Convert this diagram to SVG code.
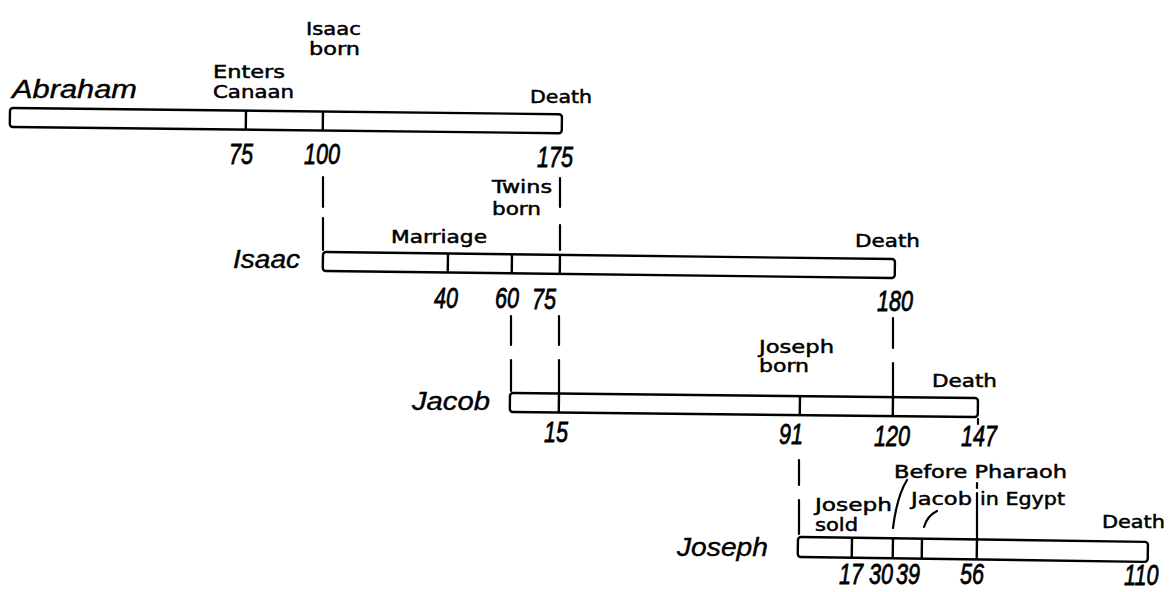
<svg xmlns="http://www.w3.org/2000/svg" width="1170" height="592" viewBox="0 0 1170 592">
<style>
.bar{fill:#fff;stroke:#000;stroke-width:2.4;stroke-linejoin:round}
.tick{stroke:#000;stroke-width:2.4}
.conn line,.conn path{stroke:#000;stroke-width:2.2;fill:none;stroke-linecap:round}
.lbl{font-family:"DejaVu Sans","Liberation Sans",sans-serif;font-size:18px;fill:#000;stroke:#000;stroke-width:0.5}
.name{font-family:"Liberation Sans",sans-serif;font-style:italic;font-size:26px;fill:#000;stroke:#000;stroke-width:0.4}
.num{font-family:"Liberation Sans",sans-serif;font-style:italic;font-size:30px;fill:#000;stroke:#000;stroke-width:0.8}
</style>
<rect width="1170" height="592" fill="#fff"/>

<g id="abraham">
  <text class="name" x="12" y="98" textLength="125" lengthAdjust="spacingAndGlyphs">Abraham</text>
  <g transform="rotate(0.65 10 108)">
    <rect class="bar" x="10" y="108" width="552" height="19" rx="3"/>
    <line class="tick" x1="246" y1="108" x2="246" y2="127"/>
    <line class="tick" x1="323" y1="108" x2="323" y2="127"/>
  </g>
  <text class="lbl" x="213" y="78" textLength="72" lengthAdjust="spacingAndGlyphs">Enters</text>
  <text class="lbl" x="213" y="98" textLength="81" lengthAdjust="spacingAndGlyphs">Canaan</text>
  <text class="lbl" x="306" y="35" textLength="55" lengthAdjust="spacingAndGlyphs">Isaac</text>
  <text class="lbl" x="309" y="55" textLength="51" lengthAdjust="spacingAndGlyphs">born</text>
  <text class="lbl" x="530" y="103" textLength="62" lengthAdjust="spacingAndGlyphs">Death</text>
  <text class="num" transform="translate(229 164) scale(0.72 1)">75</text>
  <text class="num" transform="translate(304 164) scale(0.72 1)">100</text>
  <text class="num" transform="translate(537 167) scale(0.72 1)">175</text>
</g>

<g id="isaac">
  <text class="name" x="233" y="268" textLength="67" lengthAdjust="spacingAndGlyphs">Isaac</text>
  <g transform="rotate(0.7 323 252)">
    <rect class="bar" x="323" y="252" width="572" height="19" rx="3"/>
    <line class="tick" x1="448" y1="252" x2="448" y2="271"/>
    <line class="tick" x1="512" y1="252" x2="512" y2="271"/>
    <line class="tick" x1="560" y1="252" x2="560" y2="271"/>
  </g>
  <text class="lbl" x="391" y="243" textLength="96" lengthAdjust="spacingAndGlyphs">Marriage</text>
  <text class="lbl" x="492" y="193" textLength="60" lengthAdjust="spacingAndGlyphs">Twins</text>
  <text class="lbl" x="492" y="215" textLength="49" lengthAdjust="spacingAndGlyphs">born</text>
  <text class="lbl" x="855" y="247" textLength="65" lengthAdjust="spacingAndGlyphs">Death</text>
  <text class="num" transform="translate(434 308) scale(0.72 1)">40</text>
  <text class="num" transform="translate(495 308) scale(0.72 1)">60</text>
  <text class="num" transform="translate(532 309) scale(0.72 1)">75</text>
  <text class="num" transform="translate(877 311) scale(0.72 1)">180</text>
</g>

<g id="jacob">
  <text class="name" x="412" y="410" textLength="78" lengthAdjust="spacingAndGlyphs">Jacob</text>
  <g transform="rotate(0.62 510 393)">
    <rect class="bar" x="510" y="393" width="468" height="19" rx="3"/>
    <line class="tick" x1="559" y1="393" x2="559" y2="412"/>
    <line class="tick" x1="800" y1="393" x2="800" y2="412"/>
    <line class="tick" x1="893" y1="393" x2="893" y2="412"/>
  </g>
  <text class="lbl" x="759" y="353" textLength="75" lengthAdjust="spacingAndGlyphs">Joseph</text>
  <text class="lbl" x="759" y="372" textLength="50" lengthAdjust="spacingAndGlyphs">born</text>
  <text class="lbl" x="932" y="387" textLength="65" lengthAdjust="spacingAndGlyphs">Death</text>
  <text class="num" transform="translate(544 442) scale(0.72 1)">15</text>
  <text class="num" transform="translate(779 444) scale(0.72 1)">91</text>
  <text class="num" transform="translate(874 446) scale(0.72 1)">120</text>
  <text class="num" transform="translate(961 446) scale(0.72 1)">147</text>
</g>

<g id="joseph">
  <text class="name" x="677" y="556" textLength="91" lengthAdjust="spacingAndGlyphs">Joseph</text>
  <g transform="rotate(0.8 798 537)">
    <rect class="bar" x="798" y="537" width="350" height="20" rx="3"/>
    <line class="tick" x1="852" y1="537" x2="852" y2="557"/>
    <line class="tick" x1="893" y1="537" x2="893" y2="557"/>
    <line class="tick" x1="922" y1="537" x2="922" y2="557"/>
    <line class="tick" x1="977" y1="537" x2="977" y2="557"/>
  </g>
  <text class="lbl" x="894" y="478" textLength="173" lengthAdjust="spacingAndGlyphs">Before Pharaoh</text>
  <text class="lbl" x="815" y="511" textLength="77" lengthAdjust="spacingAndGlyphs">Joseph</text>
  <text class="lbl" x="815" y="531" textLength="43" lengthAdjust="spacingAndGlyphs">sold</text>
  <text class="lbl" x="911" y="505" textLength="61" lengthAdjust="spacingAndGlyphs">Jacob</text>
  <text class="lbl" x="980" y="505" textLength="85" lengthAdjust="spacingAndGlyphs">in Egypt</text>
  <text class="lbl" x="1102" y="528" textLength="63" lengthAdjust="spacingAndGlyphs">Death</text>
  <text class="num" transform="translate(839 584) scale(0.72 1)">17</text>
  <text class="num" transform="translate(869 584) scale(0.72 1)">30</text>
  <text class="num" transform="translate(896 584) scale(0.72 1)">39</text>
  <text class="num" transform="translate(960 584) scale(0.72 1)">56</text>
  <text class="num" transform="translate(1124 585) scale(0.72 1)">110</text>
</g>

<g id="connectors" class="conn">
  <line x1="323" y1="177" x2="323" y2="207"/>
  <line x1="323" y1="218" x2="323" y2="250"/>
  <line x1="560" y1="178" x2="560" y2="207"/>
  <line x1="560" y1="225" x2="560" y2="250"/>
  <line x1="511" y1="316" x2="511" y2="345"/>
  <line x1="511" y1="360" x2="511" y2="391"/>
  <line x1="559" y1="316" x2="559" y2="345"/>
  <line x1="559" y1="360" x2="559" y2="394"/>
  <line x1="893" y1="318" x2="893" y2="348"/>
  <line x1="893" y1="363" x2="893" y2="397"/>
  <line x1="799" y1="460" x2="799" y2="485"/>
  <line x1="799" y1="500" x2="799" y2="534"/>
  <line x1="978" y1="419" x2="978" y2="424"/>
  <line x1="977" y1="483" x2="977" y2="488"/>
  <line x1="977" y1="493" x2="977" y2="540"/>
  <path d="M907,480 Q897,496 893,528"/>
  <path d="M937,511 Q927,516 924,527"/>
</g>
</svg>
